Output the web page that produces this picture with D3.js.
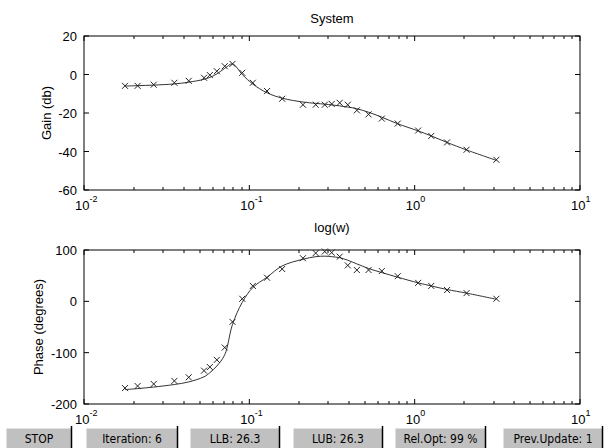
<!DOCTYPE html>
<html>
<head>
<meta charset="utf-8">
<script src="https://cdn.jsdelivr.net/npm/d3@7"></script>
<style>
  body { margin: 0; background: #fff; }
  text { font-family: "Liberation Sans", Arial, Helvetica, sans-serif; fill: #000; }
  .btn text { font-family: "DejaVu Sans Condensed", "Liberation Sans Narrow", "Liberation Sans", sans-serif; font-stretch: condensed; }
</style>
</head>
<body>
<div id="chart"></div>
<script>
// frequencies of the measured points (rad/s)
var freq = [0.0177, 0.0211, 0.0264, 0.0352, 0.0430, 0.0532, 0.0577, 0.0636, 0.0710, 0.0791,
            0.0906, 0.105, 0.128, 0.158, 0.211, 0.252, 0.286, 0.315, 0.352, 0.394,
            0.447, 0.526, 0.633, 0.790, 1.05, 1.26, 1.57, 2.06, 3.12];
// measured gain (db), "x" markers
var gainData = [-5.9, -5.9, -5.3, -4.3, -3.3, -1.7, -0.3, 1.7, 4.3, 5.5,
                0.9, -4.3, -8.6, -12.6, -15.7, -15.7, -15.7, -15.3, -14.7, -15.7,
                -18.6, -20.7, -22.9, -25.5, -29.1, -31.9, -35.3, -39.1, -44.3];
// fitted gain (db), solid line
var gainFit = [-6.0, -5.8, -5.5, -4.9, -4.0, -2.5, -1.5, 0.3, 3.2, 5.5,
               0.0, -5.0, -9.5, -12.3, -14.3, -15.0, -15.4, -15.8, -16.3, -16.9,
               -17.8, -19.6, -22.2, -25.6, -29.3, -31.9, -35.3, -39.2, -44.6];
// measured phase (degrees)
var phaseData = [-169, -165, -161, -155, -148, -135, -128, -114, -90, -40,
                 5, 30, 46, 63, 84, 94, 97, 95, 87, 70,
                 61, 61, 59, 49, 36, 30, 22, 16, 5];
// fitted phase (degrees)
var phaseFit = [-172, -170, -167, -162, -157, -147, -139, -126, -104, -45,
                -2, 27, 47, 69, 82, 87, 88, 87, 85, 80,
                73, 64, 56, 47, 36, 30, 23, 16, 4];

var xMajor = [0.01, 0.1, 1, 10];
var xMajorExp = ["-2", "-1", "0", "1"];
var gainTicks = [-60, -40, -20, 0, 20];
var phaseTicks = [-200, -100, 0, 100];
var buttonLabels = ["STOP", "Iteration: 6", "LLB: 26.3", "LUB: 26.3", "Rel.Opt: 99 %", "Prev.Update: 1"];

var width = 614, height = 448;
var svg = d3.select("#chart").append("svg")
    .attr("width", width)
    .attr("height", height);

svg.append("rect").attr("width", width).attr("height", height).attr("fill", "#fff");

var x = d3.scaleLog().domain([0.01, 10]).range([84, 580]);

// minor ticks for log axis
var xMinor = [];
[0.01, 0.1, 1].forEach(function (dec) {
    for (let k = 2; k <= 9; k++) xMinor.push(dec * k);
});

function panel(yScale, yTicks, meas, fit, ylabel, ylabelX) {
    var y0 = yScale.range()[0], y1 = yScale.range()[1];
    var x0 = x.range()[0], x1 = x.range()[1];
    var g = svg.append("g");

    // frame
    g.append("rect")
        .attr("x", x0).attr("y", y1)
        .attr("width", x1 - x0).attr("height", y0 - y1)
        .attr("fill", "none").attr("stroke", "#000").attr("stroke-width", 1);

    // x ticks, bottom and top, inside
    g.selectAll(".xmaj").data(xMajor).enter().append("path")
        .attr("d", d => "M" + x(d) + "," + y0 + "v-5M" + x(d) + "," + y1 + "v5")
        .attr("stroke", "#000");
    g.selectAll(".xmin").data(xMinor).enter().append("path")
        .attr("d", d => "M" + Math.round(x(d)) + "," + y0 + "v-3M" + Math.round(x(d)) + "," + y1 + "v3")
        .attr("stroke", "#000");

    // y ticks left and right, inside
    g.selectAll(".ytick").data(yTicks).enter().append("path")
        .attr("d", d => "M" + x0 + "," + yScale(d) + "h5M" + x1 + "," + yScale(d) + "h-5")
        .attr("stroke", "#000");

    g.selectAll(".ylab").data(yTicks).enter().append("text")
        .attr("x", x0 - 7).attr("y", d => yScale(d) + 5)
        .attr("text-anchor", "end")
        .style("font-size", "13px")
        .text(d => d);

    // x tick labels: 10 with superscript exponent
    var xl = g.selectAll(".xlab").data(xMajor).enter().append("text")
        .attr("x", d => x(d) - 9).attr("y", y0 + 20)
        .style("font-size", "13px");
    xl.append("tspan").text("10");
    xl.append("tspan").attr("dy", -8).style("font-size", "9px").text((d, i) => xMajorExp[i]);

    // fitted curve
    var line = d3.line()
        .x((d, i) => x(freq[i]))
        .y(d => yScale(d))
        .curve(d3.curveCatmullRom);
    g.append("path").datum(fit)
        .attr("d", line)
        .attr("fill", "none").attr("stroke", "#333").attr("stroke-width", 1);

    // measured markers
    g.selectAll(".mk").data(meas).enter().append("path")
        .attr("transform", (d, i) => "translate(" + x(freq[i]) + "," + yScale(d) + ")")
        .attr("d", "M-3,-3L3,3M-3,3L3,-3")
        .attr("stroke", "#222").attr("stroke-width", 1);

    // y label
    g.append("text")
        .attr("transform", "translate(" + ylabelX + "," + ((y0 + y1) / 2) + ") rotate(-90)")
        .attr("text-anchor", "middle")
        .style("font-size", "13px")
        .text(ylabel);
}

var gainY = d3.scaleLinear().domain([-60, 20]).range([190, 36]);
var phaseY = d3.scaleLinear().domain([-200, 100]).range([404, 250]);

panel(gainY, gainTicks, gainData, gainFit, "Gain (db)", 51);
panel(phaseY, phaseTicks, phaseData, phaseFit, "Phase (degrees)", 43);

// title and x label
svg.append("text").attr("x", 332).attr("y", 23).attr("text-anchor", "middle")
    .style("font-size", "13px").text("System");
svg.append("text").attr("x", 332).attr("y", 232).attr("text-anchor", "middle")
    .style("font-size", "13px").text("log(w)");

// button row
var bx = [6, 86, 190, 293, 395, 503];
var bw = [66, 92, 90, 90, 91, 100];
var btn = svg.selectAll(".btn").data(buttonLabels).enter().append("g")
    .attr("class", "btn")
    .attr("transform", (d, i) => "translate(" + bx[i] + ",428)");
btn.append("rect").attr("width", (d, i) => bw[i]).attr("height", 20).attr("fill", "#c0c0c0");
btn.append("path")
    .attr("d", (d, i) => "M0,20V0H" + bw[i])
    .attr("fill", "none").attr("stroke", "#fff");
btn.append("path")
    .attr("d", (d, i) => "M" + (bw[i] - 0.5) + ",-2V20")
    .attr("fill", "none").attr("stroke", "#000").attr("stroke-width", 1.5);
btn.append("text")
    .attr("x", (d, i) => bw[i] / 2).attr("y", 15)
    .attr("text-anchor", "middle")
    .style("font-size", "12px")
    .text(d => d);
</script>
</body>
</html>
